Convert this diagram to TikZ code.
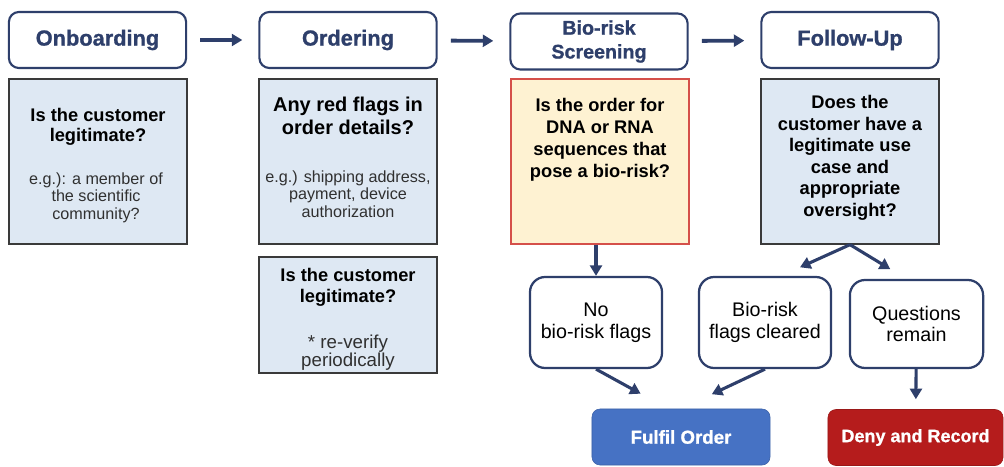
\documentclass[tikz,border=0pt]{standalone}
\usepackage{fontspec}
\setmainfont{Liberation Sans}
\newfontfamily\heavyfont[FakeBold=1]{Liberation Sans Bold}
\usetikzlibrary{arrows.meta,calc}
\definecolor{navy}{HTML}{2E3F6B}
\definecolor{qblue}{HTML}{DEE8F3}
\definecolor{boxgray}{HTML}{3A3A3A}
\definecolor{notegray}{HTML}{303030}
\definecolor{riskyellow}{HTML}{FEF2D2}
\definecolor{riskred}{HTML}{D5504A}
\definecolor{fulblue}{HTML}{4672C4}
\definecolor{denyred}{HTML}{B51C1C}
\tikzset{
    hdr/.style={draw=navy, line width=1.5pt, rounded corners=0.25cm, fill=white,
        minimum width=4.43cm, minimum height=1.4cm, inner sep=0pt, align=center,
        text=navy, font=\heavyfont\fontsize{15.5}{17}\selectfont},
    qbox/.style={draw=boxgray, line width=0.9pt, fill=qblue, minimum width=4.45cm, inner sep=0pt},
    qtxt/.style={anchor=north, align=center, inner sep=0pt, font=\bfseries\fontsize{13}{14.5}\selectfont},
    note/.style={anchor=north, align=center, inner sep=0pt, text=notegray,
        font=\fontsize{11.5}{12.5}\selectfont},
    ans/.style={draw=navy, line width=1.6pt, rounded corners=0.38cm, fill=white,
        minimum width=3.3cm, minimum height=2.275cm, inner sep=0pt, align=center,
        font=\fontsize{14}{15.5}\selectfont},
    outc/.style={rounded corners=0.2cm, minimum height=1.4cm, inner sep=0pt, text=white,
        font=\heavyfont\fontsize{13.3}{15}\selectfont},
    arr/.style={draw=navy, line width=2.2pt, -{Triangle[length=7.5pt,width=8.5pt]}},
}
\begin{document}
\begin{tikzpicture}[x=0.025cm, y=-0.025cm]
    \useasboundingbox (0, 0) rectangle (1004, 466);

    % stages
    \node[hdr] (onb) at(97.5, 40){Onboarding};
    \node[hdr] (ord) at(348, 40){Ordering};
    \node[hdr, font=\heavyfont\fontsize{14}{17}\selectfont] (scr) at(599, 41.5){Bio-risk\\Screening};
    \node[hdr] (fol) at(850, 40){Follow-Up};
        \draw[arr, line width=2.7pt, shorten <=0.33cm, shorten >=0.4cm](onb) to (ord);
        \draw[arr, line width=2.7pt, shorten <=0.33cm, shorten >=0.4cm](ord) to (scr);
        \draw[arr, line width=2.7pt, shorten <=0.33cm, shorten >=0.4cm](scr) to (fol);

    % questions
    \node[qbox, minimum height=4.125cm] (onbq) at(98, 161.5){};
        \node[qtxt] (onbt) at(98, 108){Is the customer\\legitimate?};
        \node[note] (onbn) at(96, 172){e.g.): a member of\\the scientific\\community?};
    \node[qbox, minimum height=4.125cm] (ordq) at(348, 161.5){};
        \node[qtxt, font=\bfseries\fontsize{14.2}{16.3}\selectfont] (ordt) at(348, 97){Any red flags in\\order details?};
        \node[note] (ordn) at(348, 170){e.g.) shipping address,\\payment, device\\authorization};
    \node[qbox, minimum height=2.9cm] (ordr) at(348, 315){};
        \node[qtxt, font=\bfseries\fontsize{13}{15}\selectfont] (ordrt) at(348, 268){Is the customer\\legitimate?};
        \node[note, font=\fontsize{13.3}{12.5}\selectfont] (ordrn) at(348, 335){* re-verify\\periodically};
    \node[qbox, draw=riskred, fill=riskyellow, minimum height=4.125cm] (scrq) at(600, 161.5){};
        \node[qtxt, font=\bfseries\fontsize{13}{15.6}\selectfont] (scrt) at(600, 98){Is the order for\\DNA or RNA\\sequences that\\pose a bio-risk?};
    \node[qbox, minimum height=4.125cm] (folq) at(850, 161.5){};
        \node[qtxt, font=\bfseries\fontsize{13}{15.3}\selectfont] (folt) at(850, 95){Does the\\customer have a\\legitimate use\\case and\\appropriate\\oversight?};

    % answers
    \node[ans] (noflag) at(596, 322.5){No\\bio-risk flags};
    \node[ans] (clear) at(765, 322.5){Bio-risk\\flags cleared};
    \node[ans, minimum width=3.33cm, minimum height=2.2cm] (remain) at(916.5, 324){Questions\\remain};

    \node[outc, fill=fulblue, draw=fulblue!85!black, minimum width=4.45cm] (fulfil) at(681, 437){Fulfil Order};
    \node[outc, fill=denyred, draw=denyred!85!black, minimum width=4.375cm, font=\heavyfont\fontsize{12.8}{15}\selectfont] (deny) at(915.5, 437.5){Deny and Record};

        \draw[arr](noflag.north |- scrq.south) to (noflag.north);
        \draw[arr, shorten >=0.52cm](folq.south) to ($(clear.north)+(16, 0)$);
        \draw[arr, shorten >=0.47cm](folq.south) to ($(remain.north west)!0.85!(remain.north)$);
        \draw[arr, shorten >=0.78cm](noflag.south) to ($(fulfil.north)+(-13, 0)$);
        \draw[arr, shorten >=0.85cm](clear.south) to (fulfil.north);
        \draw[arr, shorten >=0.25cm](remain) to (deny);
\end{tikzpicture}
\end{document}
